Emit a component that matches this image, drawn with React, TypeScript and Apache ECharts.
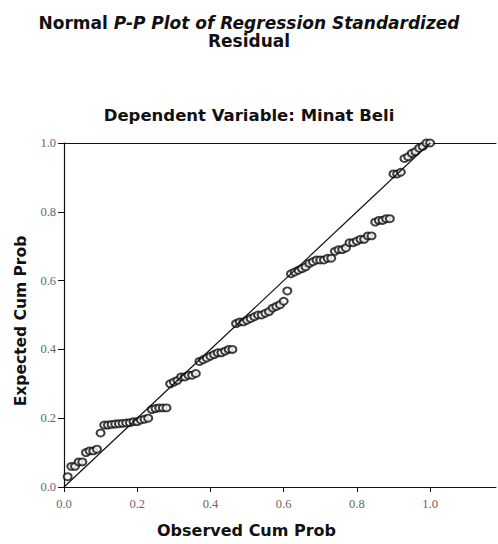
import React, { useEffect, useRef } from "react";
import * as echarts from "echarts";

const titleLine1Plain = "Normal ";
const titleLine1Italic = "P-P Plot of Regression Standardized";
const titleLine2 = "Residual";
const subtitle = "Dependent Variable: Minat Beli";
const xName = "Observed Cum Prob";
const yName = "Expected Cum Prob";
const tickValues = [0, 0.2, 0.4, 0.6, 0.8, 1.0];

const observed = [
  0.01, 0.02, 0.03, 0.04, 0.05, 0.06, 0.07, 0.08, 0.09, 0.10,
  0.11, 0.12, 0.13, 0.14, 0.15, 0.16, 0.17, 0.18, 0.19, 0.20,
  0.21, 0.22, 0.23, 0.24, 0.25, 0.26, 0.27, 0.28, 0.29, 0.30,
  0.31, 0.32, 0.33, 0.34, 0.35, 0.36, 0.37, 0.38, 0.39, 0.40,
  0.41, 0.42, 0.43, 0.44, 0.45, 0.46, 0.47, 0.48, 0.49, 0.50,
  0.51, 0.52, 0.53, 0.54, 0.55, 0.56, 0.57, 0.58, 0.59, 0.60,
  0.61, 0.62, 0.63, 0.64, 0.65, 0.66, 0.67, 0.68, 0.69, 0.70,
  0.71, 0.72, 0.73, 0.74, 0.75, 0.76, 0.77, 0.78, 0.79, 0.80,
  0.81, 0.82, 0.83, 0.84, 0.85, 0.86, 0.87, 0.88, 0.89, 0.90,
  0.91, 0.92, 0.93, 0.94, 0.95, 0.96, 0.97, 0.98, 0.99, 1.00,
];

const expected = [
  0.03, 0.06, 0.06, 0.073, 0.073, 0.10, 0.105, 0.105, 0.11, 0.157,
  0.18, 0.18, 0.182, 0.183, 0.184, 0.185, 0.186, 0.187, 0.19, 0.19,
  0.195, 0.197, 0.20, 0.225, 0.228, 0.23, 0.23, 0.23, 0.30, 0.305,
  0.31, 0.32, 0.32, 0.325, 0.325, 0.33, 0.365, 0.37, 0.375, 0.38,
  0.385, 0.39, 0.39, 0.395, 0.40, 0.40, 0.475, 0.48, 0.48, 0.485,
  0.49, 0.495, 0.50, 0.50, 0.505, 0.51, 0.52, 0.525, 0.53, 0.54,
  0.57, 0.62, 0.625, 0.63, 0.635, 0.64, 0.65, 0.655, 0.66, 0.66,
  0.66, 0.665, 0.665, 0.685, 0.69, 0.69, 0.695, 0.71, 0.71, 0.715,
  0.72, 0.72, 0.73, 0.73, 0.77, 0.775, 0.775, 0.78, 0.78, 0.91,
  0.91, 0.915, 0.955, 0.96, 0.97, 0.975, 0.985, 0.99, 1.0, 1.0,
];

const diagonal = [
  [0, 0],
  [1, 1],
];

const BOLD_FONT = "DejaVu Sans";
const TICK_FONT = "Liberation Serif";

export default function App() {
  const ref = useRef<HTMLDivElement>(null);

  useEffect(() => {
    if (!ref.current) return;
    const chart = echarts.init(ref.current, null, { renderer: "svg" });
    const points = observed.map((x, i) => [x, expected[i]]);

    chart.setOption({
      animation: false,
      backgroundColor: "#ffffff",
      title: [
        {
          left: "center",
          top: 9,
          text: `{n|${titleLine1Plain}}{i|${titleLine1Italic}}\n{n|${titleLine2}}`,
          textStyle: {
            rich: {
              n: {
                fontFamily: BOLD_FONT,
                fontWeight: "bold",
                fontSize: 17,
                color: "#111",
                lineHeight: 18,
              },
              i: {
                fontFamily: BOLD_FONT,
                fontWeight: "bold",
                fontStyle: "italic",
                fontSize: 17,
                color: "#111",
                lineHeight: 18,
              },
            },
          },
        },
        {
          left: "center",
          top: 102,
          text: subtitle,
          textStyle: {
            fontFamily: BOLD_FONT,
            fontWeight: "bold",
            fontSize: 16.5,
            color: "#111",
          },
        },
      ],
      graphic: [
        {
          type: "text",
          left: 157,
          top: 522,
          style: {
            text: xName,
            font: `bold 16px "${BOLD_FONT}"`,
            fill: "#111",
          },
        },
        {
          type: "text",
          x: 21,
          y: 321,
          rotation: Math.PI / 2,
          style: {
            text: yName,
            font: `bold 15.5px "${BOLD_FONT}"`,
            fill: "#111",
            align: "center",
            verticalAlign: "middle",
          },
        },
      ],
      grid: {
        left: 64,
        top: 143,
        right: 2,
        bottom: 57,
      },
      xAxis: [
        {
          type: "value",
          min: 0,
          max: 1.18,
          position: "bottom",
          axisLine: { show: true, lineStyle: { color: "#111", width: 1 } },
          axisTick: {
            show: true,
            inside: false,
            length: 5,
            customValues: tickValues,
            lineStyle: { color: "#111" },
          },
          axisLabel: {
            customValues: tickValues,
            formatter: (v: number) => v.toFixed(1),
            fontFamily: TICK_FONT,
            fontSize: 12.5,
            color: "#666",
            margin: 10,
          },
          splitLine: { show: false },
        },
        {
          type: "value",
          min: 0,
          max: 1.18,
          position: "top",
          axisLine: { show: true, lineStyle: { color: "#111", width: 1 } },
          axisTick: { show: false },
          axisLabel: { show: false },
          splitLine: { show: false },
        },
      ],
      yAxis: {
        type: "value",
        min: 0,
        max: 1,
        interval: 0.2,
        axisLine: { show: true, lineStyle: { color: "#111", width: 1.2 } },
        axisTick: { show: true, length: 6, lineStyle: { color: "#111" } },
        axisLabel: {
          formatter: (v: number) => v.toFixed(1),
          fontFamily: TICK_FONT,
          fontSize: 12.5,
          color: "#666",
          margin: 8,
        },
        splitLine: { show: false },
      },
      series: [
        {
          type: "line",
          data: diagonal,
          symbol: "none",
          lineStyle: { color: "#111", width: 1.2 },
          silent: true,
        },
        {
          type: "scatter",
          data: points,
          symbol: "emptyCircle",
          symbolSize: [8, 7],
          itemStyle: { color: "#111", borderColor: "#111", borderWidth: 1 },
        },
      ],
    });

    return () => chart.dispose();
  }, []);

  return (
    <div
      ref={ref}
      style={{ position: "absolute", left: 0, top: 0, width: 498, height: 544 }}
    />
  );
}
